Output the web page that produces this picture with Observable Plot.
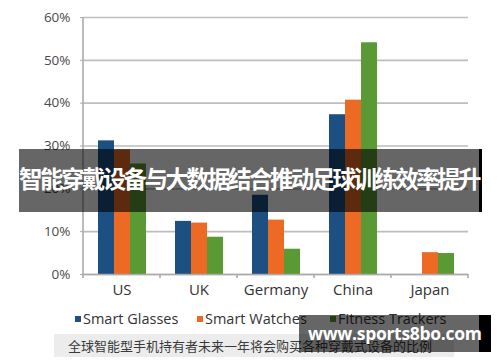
<!DOCTYPE html>
<html>
<head>
<meta charset="utf-8">
<script src="https://cdn.jsdelivr.net/npm/d3@7"></script>
<script src="https://cdn.jsdelivr.net/npm/@observablehq/plot@0.6"></script>
<style>
  html, body { margin: 0; padding: 0; background: #fff; }
  #wrap { position: relative; width: 500px; height: 362px; overflow: hidden; font-family: "Open Sans", "Noto Sans", sans-serif; }
  #chart svg { display: block; }
  .legend { position: absolute; left: 0; top: 309px; height: 20px; font-size: 14.5px; color: #333; }
  .legend .item { position: absolute; top: 0; white-space: nowrap; }
  .legend .sw { display: inline-block; width: 6px; height: 6px; margin-right: 2px; vertical-align: 2px; }
  .caption { position: absolute; left: 54px; top: 334px; width: 400px; height: 23px; background: #ececec; }
  .caption span { position: absolute; left: 14px; top: 2px; font-family: "Noto Sans CJK SC", sans-serif; font-size: 13px; color: #3a3a3a; white-space: nowrap; }
  .banner { position: absolute; left: 19px; top: 149px; width: 460px; height: 63px; background: rgba(0,0,0,0.6); border-right: 3px solid #000; }
  .banner span { position: absolute; left: 0; top: 14px; width: 460px; text-align: center; font-family: "Noto Sans CJK SC", sans-serif; font-weight: 700; font-size: 23.5px; letter-spacing: -2.6px; color: #fff; white-space: nowrap; line-height: 30px; }
  .wm { position: absolute; left: 299px; top: 315px; width: 180px; height: 37px; background: rgba(0,0,0,0.6); border-right: 12px solid #000; }
  .wm span { position: absolute; left: 9px; top: 5px; font-family: "Open Sans", sans-serif; font-weight: 700; font-size: 17.5px; letter-spacing: -0.3px; color: #fff; white-space: nowrap; line-height: 26px; }
</style>
</head>
<body>
<div id="wrap">
  <div id="chart"></div>
  <div class="legend" id="legend"></div>
  <div class="caption"><span id="caption"></span></div>
  <div class="banner"><span id="title"></span></div>
  <div class="wm"><span id="wm"></span></div>
</div>
<script>
const countries = ["US", "UK", "Germany", "China", "Japan"];
const series = ["Smart Glasses", "Smart Watches", "Fitness Trackers"];
const smartGlasses    = [0.312, 0.124, 0.185, 0.373, 0];
const smartWatches    = [0.291, 0.120, 0.127, 0.407, 0.051];
const fitnessTrackers = [0.258, 0.087, 0.059, 0.541, 0.049];
const yTicks = [0, 0.1, 0.2, 0.3, 0.4, 0.5, 0.6];
const colors = ["#1c4f82", "#ec6a24", "#5a9a34"];
const titleText = "智能穿戴设备与大数据结合推动足球训练效率提升";
const captionText = "全球智能型手机持有者未来一年将会购买各种穿戴式设备的比例";
const watermarkText = "www.sports8bo.com";

const valuesBySeries = [smartGlasses, smartWatches, fitnessTrackers];
const data = [];
countries.forEach((c, i) => {
  series.forEach((s, j) => {
    data.push({country: c, series: s, value: valuesBySeries[j][i]});
  });
});

const chart = Plot.plot({
  width: 500,
  height: 362,
  marginLeft: 83,
  marginRight: 32,
  marginTop: 17,
  marginBottom: 88,
  style: {fontFamily: "'Open Sans', 'Noto Sans', sans-serif", background: "transparent", color: "#444"},
  fx: {domain: countries, padding: 0, label: null},
  x: {domain: series, paddingInner: 0, paddingOuter: 0.805, axis: null},
  y: {domain: [0, 0.6], label: null},
  color: {domain: series, range: colors},
  marks: [
    Plot.gridY(yTicks, {stroke: "#bdbdbd", strokeOpacity: 1, strokeWidth: 1.6}),
    Plot.axisY(yTicks, {tickFormat: d3.format(".0%"), tickSize: 3, tickPadding: 10, fontSize: 13.5, stroke: "#aaa", fill: "#4a4a4a", label: null}),
    Plot.axisFx({anchor: "bottom", tickSize: 0, tickPadding: 10, fontSize: 15, fill: "#333", label: null}),
    Plot.barY(data, {fx: "country", x: "series", y: "value", fill: "series"}),
    Plot.ruleY([0], {stroke: "#aaa", strokeWidth: 1.6})
  ]
});

// Excel-style axis line and category boundary ticks, placed from the chart's own scales
const fx = chart.scale("fx");
const y = chart.scale("y");
const svg = d3.select(chart);
const g = svg.append("g").attr("stroke", "#aaa").attr("stroke-width", 1.6);
const y0 = y.apply(0), yTop = y.apply(0.6);
const x0 = fx.apply(countries[0]);
g.append("line").attr("x1", x0).attr("x2", x0).attr("y1", yTop).attr("y2", y0);
const bounds = countries.map(c => fx.apply(c)).concat([fx.apply(countries[countries.length - 1]) + fx.bandwidth]);
bounds.forEach(b => {
  g.append("line").attr("x1", b).attr("x2", b).attr("y1", y0).attr("y2", y0 + 4);
});

document.getElementById("chart").appendChild(chart);

// Legend
const legend = document.getElementById("legend");
const legendX = [75, 197, 330];
series.forEach((s, i) => {
  const item = document.createElement("div");
  item.className = "item";
  item.style.left = legendX[i] + "px";
  item.innerHTML = `<span class="sw" style="background:${colors[i]}"></span>${s}`;
  legend.appendChild(item);
});

document.getElementById("title").textContent = titleText;
document.getElementById("caption").textContent = captionText;
document.getElementById("wm").textContent = watermarkText;
</script>
</body>
</html>
